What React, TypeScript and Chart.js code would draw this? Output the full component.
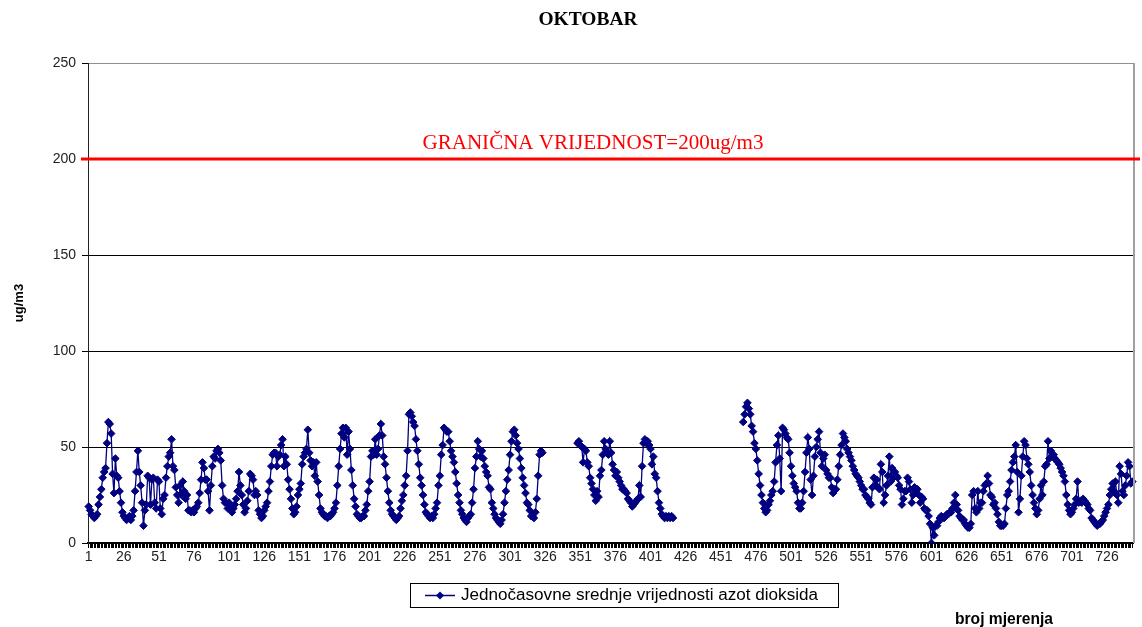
import { useEffect, useRef } from "react";
import { Chart, registerables } from "chart.js";

Chart.register(...registerables);

const TITLE = "OKTOBAR";
const LIMIT = 200;
const LIMIT_LABEL = "GRANIČNA VRIJEDNOST=200ug/m3";
const SERIES_LABEL = "Jednočasovne srednje vrijednosti azot dioksida";
const Y_TITLE = "ug/m3";
const X_TITLE = "broj mjerenja";
const Y_MIN = 0;
const Y_MAX = 250;
const Y_STEP = 50;
const X_LABEL_STEP = 25;

const N = null;
// hourly values, one array per day (24 hours)
const day01 = [19, 17, 15, 14, 13, 14, 15, 20, 24, 28, 34, 37, 39, 52, 63, 62, 57, 36, 26, 44, 35, 34, 27, 21];
const day02 = [16, 14, 13, 12, 13, 14, 12, 14, 17, 27, 37, 48, 37, 30, 21, 9, 17, 20, 35, 34, 20, 33, 34, 21];
const day03 = [18, 33, 32, 18, 15, 23, 25, 34, 40, 45, 47, 54, 40, 38, 29, 25, 21, 30, 25, 32, 27, 23, 25, 17];
const day04 = [17, 16, 17, 16, 18, 19, 21, 26, 33, 42, 39, 33, 33, 27, 17, 30, 40, 45, 44, 48, 49, 47, 43, 30];
const day05 = [23, 21, 21, 18, 21, 18, 16, 18, 20, 23, 27, 37, 30, 25, 20, 16, 18, 22, 27, 36, 35, 33, 25, 27];
const day06 = [25, 17, 15, 13, 14, 17, 19, 21, 27, 32, 40, 46, 47, 47, 40, 45, 46, 51, 54, 40, 45, 41, 33, 28];
const day07 = [23, 18, 15, 16, 19, 25, 28, 31, 41, 45, 47, 49, 59, 47, 43, 40, 42, 35, 42, 32, 25, 18, 16, 15];
const day08 = [14, 14, 13, 14, 14, 15, 16, 18, 21, 30, 40, 49, 57, 60, 55, 60, 46, 58, 49, 38, 30, 23, 19, 15];
const day09 = [14, 13, 13, 14, 14, 17, 20, 27, 32, 45, 48, 46, 54, 46, 49, 56, 62, 56, 45, 41, 34, 27, 21, 17];
const day10 = [15, 14, 13, 12, 13, 14, 18, 22, 25, 30, 35, 48, 67, 68, 66, 63, 61, 54, 48, 41, 34, 30, 25, 20];
const day11 = [16, 15, 14, 13, 14, 13, 15, 18, 21, 30, 35, 46, 51, 60, 59, 58, 58, 53, 48, 45, 42, 37, 31, 25];
const day12 = [21, 17, 15, 13, 12, 11, 13, 14, 15, 21, 28, 39, 45, 53, 49, 45, 48, 44, 40, 37, 35, 29, 28, 21];
const day13 = [18, 15, 13, 12, 11, 10, 12, 15, 21, 27, 33, 38, 46, 53, 58, 59, 56, 52, 49, 44, 39, 34, 30, 26];
const day14 = [21, 20, 17, 14, 14, 13, 16, 23, 35, 46, 48, 47, N, N, N, N, N, N, N, N, N, N, N, N];
const day15 = [N, N, N, N, N, N, N, N, N, N, N, N, 52, 53, 51, 50, 42, 49, 48, 42, 40, 34, 31, 28];
const day16 = [25, 22, 27, 24, 35, 38, 46, 53, 49, 47, 46, 53, 47, 41, 38, 35, 37, 34, 32, 30, 28, 28, 27, 26];
const day17 = [23, 22, 21, 19, 20, 21, 22, 23, 30, 24, 40, 52, 54, 52, 53, 51, 49, 41, 45, 36, 34, 27, 21, 18];
const day18 = [15, 14, 13, 14, 13, 14, 13, 14, 13, N, N, N, N, N, N, N, N, N, N, N, N, N, N, N];
const day19 = [N, N, N, N, N, N, N, N, N, N, N, N, N, N, N, N, N, N, N, N, N, N, N, N];
const day20 = [N, N, N, N, N, N, N, N, N, N, 63, 67, 71, 73, 70, 67, 61, 58, 52, 49, 43, 36, 30, 25];
const day21 = [21, 18, 16, 17, 20, 22, 25, 27, 32, 42, 51, 56, 44, 27, 60, 59, 57, 55, 54, 47, 40, 35, 31, 29];
const day22 = [27, 21, 18, 18, 21, 27, 37, 47, 55, 49, 33, 25, 35, 45, 50, 54, 58, 47, 40, 44, 46, 38, 36, 34];
const day23 = [34, 29, 26, 28, 28, 33, 40, 46, 51, 57, 55, 53, 49, 47, 45, 43, 40, 38, 36, 35, 34, 32, 30, 28];
const day24 = [28, 25, 24, 23, 21, 20, 29, 34, 30, 33, 29, 28, 41, 37, 21, 25, 30, 35, 45, 32, 39, 34, 37, 35];
const day25 = [34, 30, 28, 20, 23, 27, 27, 34, 32, 28, 21, 25, 29, 27, 28, 25, 21, 24, 23, 18, 17, 17, 14, 10];
const day26 = [0, 8, 4, 9, 9, 11, 13, 14, 13, 13, 14, 15, 15, 16, 16, 18, 21, 25, 20, 17, 14, 13, 12, 12];
const day27 = [10, 9, 8, 8, 10, 25, 27, 18, 16, 27, 18, 21, 21, 27, 30, 31, 35, 31, 25, 24, 20, 21, 18, 15];
const day28 = [11, 9, 9, 9, 10, 18, 25, 27, 32, 38, 42, 45, 51, 37, 16, 23, 35, 45, 53, 51, 44, 41, 37, 30];
const day29 = [25, 21, 18, 15, 17, 23, 30, 25, 32, 40, 41, 53, 44, 48, 45, 46, 44, 43, 42, 41, 39, 37, 35, 32];
const day30 = [25, 20, 17, 15, 16, 18, 20, 23, 32, 21, 22, 21, 23, 22, 21, 20, 18, 17, 13, 12, 11, 10, 9, 10];
const day31 = [10, 11, 12, 14, 16, 18, 20, 25, 28, 31, 27, 32, 25, 21, 40, 36, 27, 25, 30, 35, 42, 40, 31, 32];

const DAYS = [
  day01, day02, day03, day04, day05, day06, day07, day08, day09, day10,
  day11, day12, day13, day14, day15, day16, day17, day18, day19, day20,
  day21, day22, day23, day24, day25, day26, day27, day28, day29, day30, day31,
];

const SERIES_COLOR = "#000080";

function fitFont(ctx: CanvasRenderingContext2D, text: string, family: string, weight: string, targetWidth: number) {
  ctx.font = `${weight} 20px ${family}`;
  const w = ctx.measureText(text).width;
  const size = (20 * targetWidth) / w;
  ctx.font = `${weight} ${size.toFixed(2)}px ${family}`;
}

const overlayPlugin = {
  id: "overlay",
  afterDraw(chart: any) {
    const { ctx, chartArea, scales } = chart;
    ctx.save();
    // right plot border
    ctx.strokeStyle = "#a0a0a0";
    ctx.lineWidth = 2;
    ctx.beginPath();
    ctx.moveTo(chartArea.right + 1, chartArea.top);
    ctx.lineTo(chartArea.right + 1, chartArea.bottom);
    ctx.stroke();

    // limit line
    const yl = scales.y.getPixelForValue(LIMIT);
    ctx.strokeStyle = "#ff0000";
    ctx.lineWidth = 3;
    ctx.beginPath();
    ctx.moveTo(chartArea.left - 7, yl);
    ctx.lineTo(chart.width - 2, yl);
    ctx.stroke();

    // limit label
    ctx.fillStyle = "#ff0000";
    ctx.textAlign = "center";
    ctx.textBaseline = "alphabetic";
    fitFont(ctx, LIMIT_LABEL, "'Liberation Serif', serif", "normal", 341);
    ctx.fillText(LIMIT_LABEL, 593, yl - 10);

    // title
    ctx.fillStyle = "#000";
    fitFont(ctx, TITLE, "'Liberation Serif', serif", "bold", 99);
    ctx.fillText(TITLE, 588, 25);

    // legend box
    ctx.strokeStyle = "#000";
    ctx.lineWidth = 1;
    ctx.strokeRect(410.5, 583.5, 428, 24);
    const ly = 595.5;
    ctx.strokeStyle = SERIES_COLOR;
    ctx.lineWidth = 1.5;
    ctx.beginPath();
    ctx.moveTo(425, ly);
    ctx.lineTo(455, ly);
    ctx.stroke();
    ctx.fillStyle = SERIES_COLOR;
    ctx.beginPath();
    ctx.moveTo(440, ly - 4);
    ctx.lineTo(444, ly);
    ctx.lineTo(440, ly + 4);
    ctx.lineTo(436, ly);
    ctx.closePath();
    ctx.fill();
    ctx.fillStyle = "#000";
    ctx.textAlign = "left";
    ctx.textBaseline = "middle";
    fitFont(ctx, SERIES_LABEL, "'Liberation Sans', Arial, sans-serif", "normal", 357);
    ctx.fillText(SERIES_LABEL, 461, ly);

    // x axis title
    fitFont(ctx, X_TITLE, "'Liberation Sans', Arial, sans-serif", "bold", 98);
    ctx.fillText(X_TITLE, 955, 620);
    ctx.restore();
  },
};

export default function App() {
  const ref = useRef<HTMLCanvasElement | null>(null);

  useEffect(() => {
    if (!ref.current) return;
    const values = DAYS.flat();
    const labels = values.map((_, i) => String(i + 1));
    const chart = new Chart(ref.current, {
      type: "line",
      data: {
        labels,
        datasets: [
          {
            label: SERIES_LABEL,
            data: values,
            borderColor: SERIES_COLOR,
            backgroundColor: SERIES_COLOR,
            borderWidth: 1.3,
            pointStyle: "rectRot",
            pointRadius: 3.8,
            pointBorderWidth: 1,
            pointBackgroundColor: SERIES_COLOR,
            pointBorderColor: SERIES_COLOR,
            spanGaps: false,
            tension: 0,
          },
        ],
      },
      options: {
        responsive: false,
        animation: false,
        devicePixelRatio: 1,
        layout: { padding: { top: 63, right: 9, bottom: 54, left: 0 } },
        plugins: {
          legend: { display: false },
          title: { display: false },
          tooltip: { enabled: false },
        },
        scales: {
          x: {
            type: "category",
            offset: true,
            afterFit: (s: any) => {
              s.height = 30;
            },
            grid: {
              display: true,
              drawOnChartArea: false,
              drawTicks: true,
              tickLength: 5,
              color: "#000",
              lineWidth: 1,
            },
            border: { display: true, color: "#000", width: 2 },
            ticks: {
              autoSkip: false,
              maxRotation: 0,
              minRotation: 0,
              padding: 1,
              color: "#222",
              font: { family: "'Liberation Sans', Arial, sans-serif", size: 14 },
              callback: (_v: any, i: number) => (i % X_LABEL_STEP === 0 ? String(i + 1) : ""),
            },
          },
          y: {
            min: Y_MIN,
            max: Y_MAX,
            afterFit: (s: any) => {
              s.width = 88;
            },
            ticks: {
              stepSize: Y_STEP,
              padding: 6,
              color: "#222",
              font: { family: "'Liberation Sans', Arial, sans-serif", size: 14 },
            },
            grid: {
              color: (c: any) => (c.tick && c.tick.value === Y_MAX ? "#909090" : "#000"),
              tickColor: "#000",
              tickLength: 6,
              lineWidth: 1,
            },
            border: { display: true, color: "#222", width: 1 },
            title: {
              display: true,
              text: Y_TITLE,
              color: "#000",
              padding: { top: 12, bottom: 0 },
              font: { family: "'Liberation Sans', Arial, sans-serif", size: 13, weight: "bold" },
            },
          },
        },
      },
      plugins: [overlayPlugin],
    });
    return () => chart.destroy();
  }, []);

  return (
    <div style={{ position: "absolute", left: 0, top: 0, width: 1142, height: 627, background: "#fff" }}>
      <canvas ref={ref} width={1142} height={627} />
    </div>
  );
}
